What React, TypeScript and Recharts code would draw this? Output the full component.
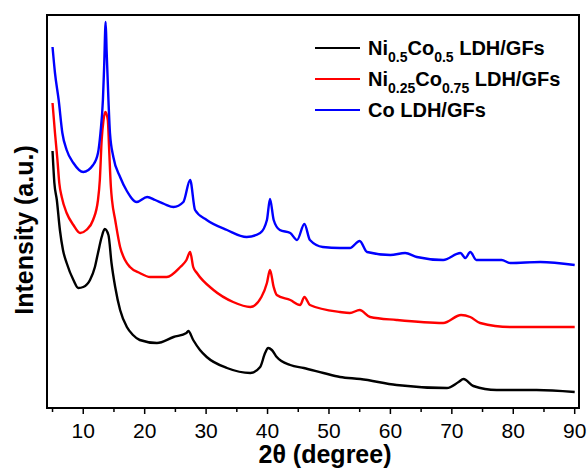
import { LineChart, Line, XAxis, YAxis, Legend, ReferenceArea } from "recharts"

// 2θ positions (degree) and intensities (a.u., arbitrary offset scale)
const blueData = [
  [5, 361], [5.4, 335], [6.0, 308], [6.6, 275], [7.3, 258], [8.4, 245], [10, 236], [11.6, 243],
  [12.4, 255], [12.8, 275], [13.2, 308], [13.4, 341], [13.65, 386], [13.8, 358], [14.1, 308],
  [14.35, 275], [14.9, 251], [16, 231], [17.1, 217], [18.7, 206], [20.4, 211], [21.7, 208],
  [23.2, 204], [24.7, 201], [26.3, 206], [27.4, 228], [28.2, 198], [30.1, 188], [33.4, 178],
  [36.6, 171], [38.8, 175], [39.9, 188], [40.4, 209], [41, 188], [42, 178], [43.7, 175],
  [44.8, 168], [46, 184], [46.9, 168], [49, 161], [51.8, 160], [53.4, 160], [55, 167],
  [56.2, 156], [60, 153], [62.4, 155], [64.3, 151], [68.6, 148], [71.4, 155], [72.2, 150],
  [73, 156], [74, 148], [78.1, 148], [79.5, 145], [84.4, 146], [90, 143]
].map(([x, y]) => ({ x, y }))

const redData = [
  [5, 305], [5.4, 275], [5.8, 248], [6.1, 225], [6.5, 211], [7.3, 195], [8.4, 183], [9.5, 175],
  [10.5, 178], [11.6, 188], [12.4, 208], [12.7, 228], [13, 268], [13.3, 288], [13.6, 296],
  [14, 288], [14.2, 261], [14.5, 221], [14.7, 207], [15.2, 188], [16, 161], [16.8, 148],
  [17.6, 141], [19.2, 135], [20.9, 131], [23.6, 131], [25.8, 141], [26.8, 148], [27.4, 156],
  [27.9, 141], [28.5, 135], [31.2, 118], [34.4, 106], [37.2, 101], [39, 111], [39.9, 125],
  [40.4, 138], [41, 121], [41.5, 113], [43.7, 108], [45.3, 103], [46, 111], [46.9, 103],
  [51.8, 96], [53.4, 95], [55, 98], [56.7, 91], [61, 88], [68.6, 85], [71.5, 93], [73, 91],
  [74.6, 85], [79.5, 81], [90, 81]
].map(([x, y]) => ({ x, y }))

const blackData = [
  [5, 257], [5.3, 225], [5.7, 208], [6.2, 178], [6.7, 158], [7.3, 145], [8.4, 128], [9.2, 120],
  [10, 121], [11.1, 128], [11.9, 141], [12.4, 155], [13, 171], [13.5, 179], [14.1, 173],
  [14.6, 145], [15.2, 121], [16, 98], [17.1, 81], [18.1, 73], [19.2, 68], [22, 65], [24.7, 71],
  [26.8, 75], [27.1, 77], [27.9, 68], [29, 58], [30.1, 51], [33.4, 40], [37.2, 35], [38.8, 41],
  [39.6, 55], [40.1, 60], [40.7, 58], [41.5, 51], [43.7, 43], [45.9, 40], [49.1, 35],
  [51.8, 31], [55.1, 29], [61, 23], [69.2, 20], [71.1, 26], [71.9, 29], [73.5, 22],
  [77.3, 18], [83.8, 18], [90, 16]
].map(([x, y]) => ({ x, y }))

const xTicks = [5, 10, 15, 20, 25, 30, 35, 40, 45, 50, 55, 60, 65, 70, 75, 80, 85, 90]

const legendItems = [
  { color: "#000000", parts: [["Ni", false], ["0.5", true], ["Co", false], ["0.5", true], [" LDH/GFs", false]] },
  { color: "#ff0000", parts: [["Ni", false], ["0.25", true], ["Co", false], ["0.75", true], [" LDH/GFs", false]] },
  { color: "#0000ff", parts: [["Co LDH/GFs", false]] }
] as { color: string; parts: [string, boolean][] }[]

const font = "'Liberation Sans', Arial, sans-serif"

const XTick = (props: any) => {
  const { x, y, payload } = props
  const major = payload.value % 10 === 0
  return (
    <g>
      <line x1={x} x2={x} y1={y} y2={y + (major ? 6 : 4)} stroke="#000" strokeWidth={1.5} />
      {major && (
        <text x={x} y={y + 30} textAnchor="middle" fontSize={21} fontFamily={font} fill="#000">
          {payload.value}
        </text>
      )}
    </g>
  )
}

const LegendBox = () => (
  <svg width={270} height={95}>
    {legendItems.map((item, i) => {
      const base = 25 + i * 31
      let sub = false
      return (
        <g key={i}>
          <line x1={5} x2={50} y1={base - 7} y2={base - 7} stroke={item.color} strokeWidth={2} />
          <text x={58} y={base} fontSize={20} fontWeight="bold" fontFamily={font} fill="#000">
            {item.parts.map(([t, s], j) => {
              const dy = s && !sub ? 7 : !s && sub ? -7 : 0
              sub = s
              return (
                <tspan key={j} dy={dy} fontSize={s ? 14 : 20}>
                  {t}
                </tspan>
              )
            })}
          </text>
        </g>
      )
    })}
  </svg>
)

export default function App() {
  return (
    <div style={{ position: "absolute", left: 0, top: 0, background: "#fff" }}>
      <LineChart width={588} height={469} margin={{ top: 15, right: 9, left: 0, bottom: 0 }}>
        <XAxis
          dataKey="x"
          type="number"
          domain={[4.1, 90.7]}
          ticks={xTicks}
          interval={0}
          tickSize={0}
          tickMargin={0}
          tickLine={false}
          tick={<XTick />}
          height={61}
          axisLine={{ stroke: "#000", strokeWidth: 2 }}
          allowDataOverflow
          label={{
            content: () => (
              <text x={325} y={463} textAnchor="middle" fontSize={25} fontWeight="bold" fontFamily={font} fill="#000">
                2θ (degree)
              </text>
            )
          }}
        />
        <YAxis
          type="number"
          domain={[0, 393]}
          width={47}
          tick={false}
          tickLine={false}
          axisLine={{ stroke: "#000", strokeWidth: 2 }}
          allowDataOverflow
          label={{
            content: () => (
              <text
                x={33}
                y={230}
                transform="rotate(-90 33 230)"
                textAnchor="middle"
                fontSize={25}
                fontWeight="bold"
                fontFamily={font}
                fill="#000"
              >
                Intensity (a.u.)
              </text>
            )
          }}
        />
        <ReferenceArea
          x1={4.1}
          x2={90.7}
          y1={0}
          y2={393}
          fill="none"
          fillOpacity={0}
          stroke="#000"
          strokeWidth={2}
          ifOverflow="visible"
        />
        <Legend
          layout="horizontal"
          verticalAlign="middle"
          align="center"
          content={<LegendBox />}
          wrapperStyle={{ position: "absolute", left: 310, top: 30, width: 270, height: 95 }}
        />
        <Line data={blackData} dataKey="y" type="monotone" stroke="#000000" strokeWidth={2.4} dot={false} isAnimationActive={false} />
        <Line data={redData} dataKey="y" type="monotone" stroke="#ff0000" strokeWidth={2.4} dot={false} isAnimationActive={false} />
        <Line data={blueData} dataKey="y" type="monotone" stroke="#0000ff" strokeWidth={2.4} dot={false} isAnimationActive={false} />
      </LineChart>
    </div>
  )
}
